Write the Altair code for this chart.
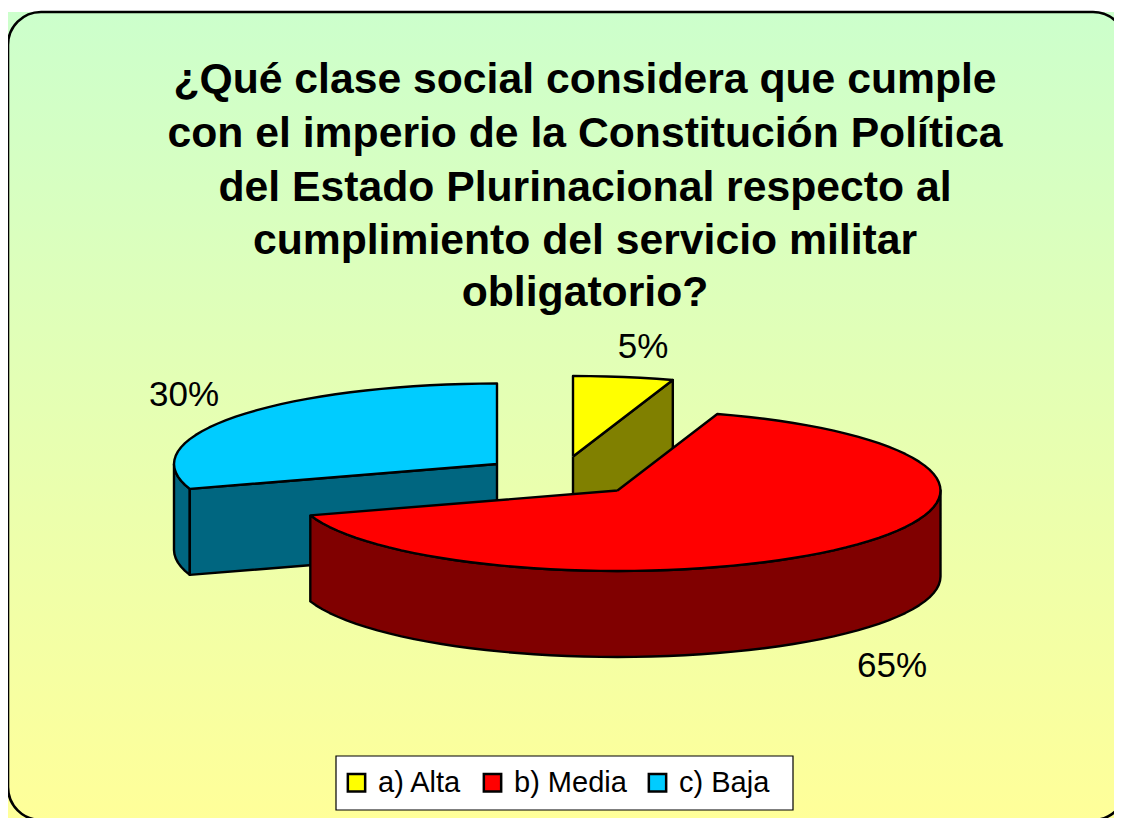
import math
import altair as alt
import pandas as pd

title_lines = ["¿Qué clase social considera que cumple",
               "con el imperio de la Constitución Política",
               "del Estado Plurinacional respecto al",
               "cumplimiento del servicio militar",
               "obligatorio?"]
categories = ["a) Alta", "b) Media", "c) Baja"]
values = [5, 65, 30]
top_colors = ["#FFFF00", "#FF0000", "#00CCFF"]
side_colors = ["#808000", "#800000", "#006680"]

# layout (pixel-space scale domains)
W, H = 1106, 810
X_DOM = [8, 1114]
Y_DOM = [818, 8]
centers = [(573, 456.5), (617.5, 490.5), (497, 464)]
RX, RY, DEPTH = 323, 80.5, 86
title_x = 585
title_y = [80, 134, 188, 241, 293]
label_pos = [(643, 347), (892, 666), (184, 395)]
FONT = "Liberation Sans"

x_enc = alt.X("x:Q", scale=alt.Scale(domain=X_DOM, nice=False, zero=False), axis=None)
y_enc = alt.Y("y:Q", scale=alt.Scale(domain=Y_DOM, nice=False, zero=False), axis=None)

def pt(c, a, dz=0):
    r = math.radians(a)
    return (c[0] + RX * math.cos(r), c[1] - RY * math.sin(r) + dz)

def arc(c, a0, a1, dz=0, step=3):
    n = max(1, int(abs(a1 - a0) / step))
    return [pt(c, a0 + (a1 - a0) * i / n, dz) for i in range(n + 1)]

def frame(points, cat=None):
    pts = list(points) + [points[0]]
    d = pd.DataFrame(pts, columns=["x", "y"])
    d["i"] = range(len(pts))
    if cat:
        d["cat"] = cat
    return d

fill_scale = alt.Scale(domain=categories, range=top_colors)
legend = alt.Legend(title=None, orient="none", legendX=334, legendY=760, columns=3,
                    symbolType="square", symbolSize=300, symbolStrokeWidth=2.5,
                    symbolStrokeColor="black", labelFont=FONT, labelFontSize=29,
                    labelColor="black", columnPadding=16, labelOffset=7, padding=0,
                    labelLimit=300, zindex=1, symbolOpacity=1)

def poly_side(points, color):
    return alt.Chart(frame(points)).mark_line(fill=color, stroke="black", strokeWidth=2.4,
                                              strokeJoin="round").encode(
        x=x_enc, y=y_enc, order="i:Q")

def poly_top(points, cat):
    return alt.Chart(frame(points, cat)).mark_line(stroke="black", strokeWidth=2.4,
                                                   strokeJoin="round").encode(
        x=x_enc, y=y_enc, order="i:Q",
        fill=alt.Fill("cat:N", scale=fill_scale, legend=legend))

layers = []
bg = pd.DataFrame({"x": [8], "x2": [1126], "y": [12], "y2": [820]})
grad = alt.Gradient(gradient="linear", x1=0, x2=0, y1=0, y2=1,
                    stops=[alt.GradientStop(color="#CCFFCC", offset=0),
                           alt.GradientStop(color="#FFFF99", offset=1)])
layers.append(alt.Chart(bg).mark_rect(fill=grad, clip=True).encode(
    x=x_enc, x2="x2:Q", y=y_enc, y2="y2:Q"))
layers.append(alt.Chart(bg).mark_rect(filled=False, stroke="black", strokeWidth=2.6,
                                      cornerRadius=33, clip=True).encode(
    x=x_enc, x2="x2:Q", y=y_enc, y2="y2:Q"))

# angles from the values, clockwise from 12 o'clock
spans = []
a = 90.0
for v in values:
    spans.append((a, a - v * 3.6))
    a -= v * 3.6

for k in [2, 0, 1]:
    c = centers[k]
    start, end = spans[k]
    lo, hi = max(end, -180), min(start, 0)
    if lo < hi:
        layers.append(poly_side(arc(c, lo, hi) + arc(c, hi, lo, DEPTH), side_colors[k]))
    for edge, vis in ((start, math.cos(math.radians(start)) < -1e-6),
                      (end, math.cos(math.radians(end)) > 1e-6)):
        if vis:
            p = pt(c, edge)
            q = pt(c, edge, DEPTH)
            layers.append(poly_side([c, p, q, (c[0], c[1] + DEPTH)], side_colors[k]))
    layers.append(poly_top([c] + arc(c, start, end), categories[k]))

box = pd.DataFrame({"x": [336], "x2": [793], "y": [756], "y2": [810]})
layers.append(alt.Chart(box).mark_rect(fill="white", stroke="black", strokeWidth=1.2).encode(
    x=x_enc, x2="x2:Q", y=y_enc, y2="y2:Q"))

tdf = pd.DataFrame({"x": [title_x] * len(title_lines), "y": title_y, "t": title_lines})
layers.append(alt.Chart(tdf).mark_text(font=FONT, fontSize=42.7, fontWeight="bold", color="black",
                                       align="center", baseline="middle").encode(
    x=x_enc, y=y_enc, text="t:N"))

ldf = pd.DataFrame({"x": [p[0] for p in label_pos], "y": [p[1] for p in label_pos],
                    "t": [f"{v}%" for v in values]})
layers.append(alt.Chart(ldf).mark_text(font=FONT, fontSize=35, color="black",
                                       align="center", baseline="middle").encode(
    x=x_enc, y=y_enc, text="t:N"))

chart = alt.layer(*layers).properties(
    width=W, height=H, padding=0, autosize=alt.AutoSizeParams(type="none"),
    background="white"
).configure_view(stroke=None)

chart.save("out.html", embed_options={"renderer": "svg", "actions": False})
